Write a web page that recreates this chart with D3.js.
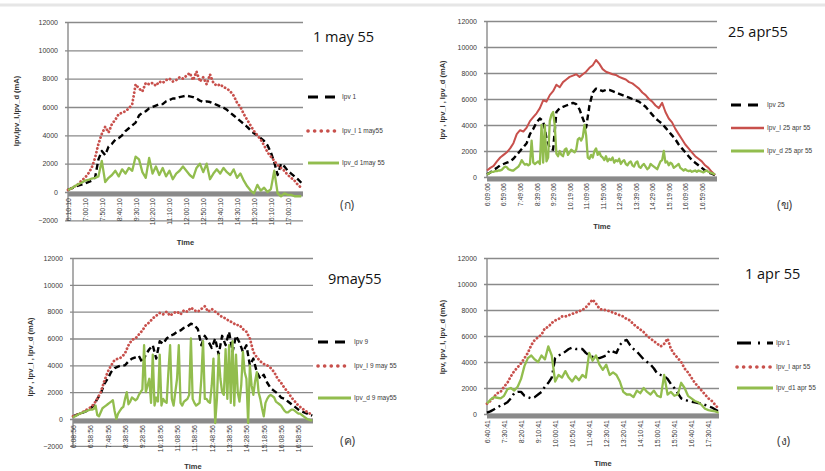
<!DOCTYPE html>
<html>
<head>
<meta charset="utf-8">
<title>Ipv, Ipv_I, Ipv_d - four days</title>
<style>
  body { margin: 0; background: #fff; }
  svg { display: block; }
  .tick text { font-family: "Liberation Sans", Arial, sans-serif; font-size: 7px; fill: #3a3a3a; }
  .leg { font-family: "Liberation Sans", Arial, sans-serif; font-size: 6.5px; fill: #3a3a3a; }
  .ttl { font-family: "Open Sans", "Noto Sans", sans-serif; font-size: 14.5px; fill: #111; }
  .lab { font-family: "Noto Sans", sans-serif; font-size: 12px; fill: #444; }
  .axt { font-family: "Liberation Sans", Arial, sans-serif; font-size: 7.5px; font-weight: bold; fill: #333; }
</style>
<script src="https://d3js.org/d3.v7.min.js"></script>
</head>
<body>
<script>
var yTicks = [-2000, 0, 2000, 4000, 6000, 8000, 10000, 12000];

// (ก) 1 may 55
var p1Ticks = ["6:10:10","7:00:10","7:50:10","8:40:10","9:30:10","10:20:10","11:10:10","12:00:10","12:50:10","13:40:10","14:30:10","15:20:10","16:10:10","17:00:10"];
var p1Ipv = [150,250,350,450,520,600,700,800,1000,2300,2900,2600,3200,3400,3700,3800,4000,4300,4500,4700,4900,5400,5600,5700,5900,6000,6100,6200,6200,6400,6500,6600,6600,6700,6750,6800,6750,6700,6600,6450,6350,6400,6350,6250,6150,6050,5950,5800,5600,5400,5200,5000,4800,4600,4350,4150,4000,3800,3600,3300,2800,2100,1200,2000,1800,1500,1300,1100,900,650];
var p1IpvI = [150,250,400,550,800,1000,1300,1700,2400,3400,4100,4600,4200,4800,5100,5500,5600,5700,5900,6200,7600,7300,7100,7700,7600,7700,7500,7800,7700,7900,8000,7800,7900,8100,8000,8200,8400,7900,8500,7800,8100,7600,8300,7700,7500,7600,7400,7300,7100,6800,6300,6000,5500,5100,4700,4300,4000,3700,3300,2800,2500,2200,1900,1700,1500,1200,1000,800,500,300];
var p1IpvD = [150,250,400,550,650,800,850,950,1000,1100,2200,700,1000,1200,1500,1100,1600,1300,1700,1500,2500,2300,1400,1000,2400,1300,1800,1200,1700,1100,1500,900,1300,1500,1800,1500,1200,1000,1700,2000,1400,2000,900,1300,1600,1300,1700,1400,1200,1600,1000,1300,800,400,100,-100,500,100,300,0,200,1500,-100,-300,-100,-200,-200,-300,-300,-300];

// (ข) 25 apr55
var p2Ticks = ["6:09:06","6:59:06","7:49:06","8:39:06","9:29:06","10:19:06","11:09:06","11:59:06","12:49:06","13:39:06","14:29:06","15:19:06","16:09:06","16:59:06"];
var p2Ipv = [200,350,550,700,900,1000,1100,1200,1400,1700,2000,2300,2600,3300,3700,4200,4500,4300,3000,2200,2100,5000,5300,5400,5500,5600,5700,5600,5200,4500,3800,5500,6500,6800,6700,6600,6700,6700,6600,6500,6400,6300,6200,6100,6000,5900,5800,5600,5400,5100,4800,4500,4300,4100,3800,3500,3200,2900,2500,2200,1900,1600,1300,1100,900,700,500,350,250,150];
var p2IpvI = [500,700,850,1200,1500,1700,1900,2200,2600,3300,3600,3500,3800,4300,4600,4900,5300,5900,5800,6300,6600,7100,6900,7300,7500,7700,7800,7900,7700,7900,8100,8400,8600,9000,8700,8300,8100,8000,7900,7850,7700,7600,7500,7300,7200,7000,6800,6500,6300,6000,5800,5500,5300,5700,5000,4500,4200,3700,3300,2900,2500,2200,1900,1600,1400,1200,900,700,400,150];
var p2IpvD = [200,250,350,400,400,450,450,500,500,550,700,800,750,600,550,500,500,600,700,800,1000,1300,1100,950,1000,900,1000,2800,1100,1000,1100,1200,1000,4000,1100,4000,1200,1500,4300,4800,5000,4000,1800,1600,2000,1700,1600,2100,2200,1700,1900,2100,2000,1900,2100,2900,3000,2800,3100,4000,3200,1500,1400,1700,1500,2000,2200,1700,1900,1600,1500,1300,1600,1200,1400,1300,1500,1100,1300,1200,1400,1000,1200,1300,1000,900,1100,1200,900,800,1100,1200,800,700,900,1000,800,600,700,1000,900,800,700,600,900,1200,1300,2000,1100,1200,900,1100,1000,700,800,900,1000,700,600,500,600,500,450,500,400,450,500,400,500,450,400,350,450,500,400,350,300,250,200];

// (ค) 9may55
var p3Ticks = ["6:08:56","6:58:56","7:48:56","8:38:56","9:28:56","10:18:56","11:08:56","11:58:56","12:48:56","13:38:56","14:28:56","15:18:56","16:08:56","16:58:56"];
var p3Ipv = [200,300,400,500,600,800,1000,1500,1900,2600,3000,3500,3800,3900,4000,4000,4300,4500,4600,4700,4200,4800,5200,5500,4500,5800,5600,6000,6200,6300,6500,6600,6800,6900,7100,7000,6700,5500,6200,5800,5300,6000,4800,6200,5500,6500,5000,6200,5700,5000,5500,4000,4500,3500,3000,3300,2700,2300,2100,1900,1600,1500,1300,1100,900,700,550,450,350,250];
var p3IpvI = [200,300,400,550,700,850,1100,1500,2000,2800,3500,4000,4400,4500,4600,4900,5500,5900,6000,6300,6600,7000,7200,7500,7700,7900,7800,8000,7700,7900,8000,7800,8100,8000,8300,8100,8000,8200,8400,8000,8200,8000,7800,7600,7500,7300,7200,7000,7000,6700,6500,6000,5000,4600,4300,4100,4000,3800,3500,3000,2700,2300,2000,1600,1300,1000,800,600,450,300];
var p3IpvD = [100,200,250,350,400,450,500,550,600,650,700,700,750,1000,300,200,500,800,900,1000,1100,1200,1300,1400,600,0,400,600,800,900,1500,2000,1100,1300,1600,1500,1400,1500,1800,2000,2200,5500,2000,2500,3000,1200,4800,1000,1600,1300,4800,1000,1500,1300,1200,3500,5500,1500,1000,2000,3000,5500,1200,1000,1300,1400,1500,1800,6000,1500,1200,1000,1100,1200,3000,5800,1500,1500,1300,1200,2500,4500,-300,1500,4800,3000,2000,1800,5200,1500,5500,1200,5800,1000,4800,2000,1300,2500,5000,3500,3000,-300,4000,2500,1800,2800,3500,2000,1500,800,200,1200,1500,1700,1800,1700,1600,1300,1200,1100,1000,800,600,500,500,600,700,700,600,500,400,400,300,200,100,0,-50,-100,-100];

// (ง) 1 apr 55
var p4Ticks = ["6:40:41","7:30:41","8:20:41","9:10:41","10:00:41","10:50:41","11:40:41","12:30:41","13:20:41","14:10:41","15:00:41","15:50:41","16:40:41","17:30:41"];
var p4Ipv = [100,200,350,500,650,750,900,1200,1600,1700,1700,1400,1300,1200,1300,1500,1700,2100,2400,2800,4300,4500,4600,4800,5000,5100,5000,5000,5000,4700,4500,4400,4300,4300,4400,4500,4900,4800,4700,5300,5600,5700,5300,5000,4800,4500,4200,4000,3800,3500,3100,3000,2900,2700,2300,2000,1600,1200,1100,1000,950,900,850,800,700,600,500,350,200];
var p4IpvI = [800,1000,1300,1600,1700,2100,2400,2900,3300,3600,3900,4300,4700,5300,5700,5900,6100,6600,6700,7000,7200,7300,7500,7500,7600,7700,7800,7900,8000,8200,8500,8800,8500,8100,8000,8000,7900,7800,7700,7600,7500,7300,7200,6900,6700,6500,6300,6000,5800,5600,5400,5200,5400,5800,5000,4600,4300,4000,3500,3200,2800,2400,2100,1800,1500,1200,1000,700,400];
var p4IpvD = [800,1100,1300,1250,1200,1400,1900,2000,1800,2100,2700,3700,4300,4500,4200,4000,4500,4200,5200,4500,2500,3000,2800,3300,2800,2500,2900,2600,3000,2800,4700,4100,4500,3800,3400,3800,3000,3200,3000,2500,1700,1500,1500,1300,1800,1600,2000,1700,1500,1800,1400,1300,3000,1500,1700,1400,1500,2400,2000,1400,1200,1000,900,700,400,300,250,200,100];

var RED = "#c8504c", GREEN = "#92bd4e", GRID = "#8a8a8a";

var svg = d3.select("body").append("svg")
  .attr("width", 825).attr("height", 471);

// faint scan border on top
svg.append("line").attr("x1", 0).attr("x2", 825).attr("y1", 5).attr("y2", 5)
  .attr("stroke", "#e6e6e6").attr("stroke-width", 3);

function toMin(s) {
  var p = s.split(":");
  return +p[0] * 60 + +p[1] + +p[2] / 60;
}

var dashed = {dash: "6,3.5", w: 2.4, color: "#000"};
var dotted = {dash: "0.1,3.7", w: 2.8, color: RED, cap: "round"};
var solidG = {dash: null, w: 2.3, color: GREEN};

var panels = [
  {left: 68, right: 303, top: 22, zero: 192, min: -2000, span: 695, ticks: p1Ticks,
   title: "1 may 55", tx: 313, ty: 42, tag: "(ก)", gx: 340, gy: 209,
   ytitle: "Ipv,Ipv_I,Ipv_d (mA)", yx: 19, yy: 111, timeY: 245,
   legX: 308, legW: 31,
   series: [
     {name: "Ipv 1", v: p1Ipv, step: 10, st: dashed, ly: 97},
     {name: "Ipv_I 1 may55", v: p1IpvI, step: 10, st: dotted, ly: 131},
     {name: "Ipv_d 1may 55", v: p1IpvD, step: 10, st: solidG, ly: 163}]},
  {left: 487, right: 717, top: 21, zero: 177, min: 0, span: 696, ticks: p2Ticks,
   title: "25 apr55", tx: 728, ty: 37, tag: "(ข)", gx: 777, gy: 209,
   ytitle: "Ipv , Ipv_I , Ipv_d (mA)", yx: 445, yy: 100, timeY: 229,
   legX: 731, legW: 33,
   series: [
     {name: "Ipv 25", v: p2Ipv, step: 10, st: dashed, ly: 105},
     {name: "Ipv_I 25 apr 55", v: p2IpvI, step: 10, st: {dash: null, w: 2, color: RED}, ly: 128},
     {name: "Ipv_d 25 apr 55", v: p2IpvD, step: 5, st: solidG, ly: 151}]},
  {left: 73, right: 313, top: 258, zero: 419, min: -2000, span: 692, ticks: p3Ticks,
   title: "9may55", tx: 328, ty: 284, tag: "(ค)", gx: 340, gy: 445,
   ytitle: "Ipv , Ipv_I , Ipv_d (mA)", yx: 33, yy: 357, timeY: 469,
   legX: 318, legW: 33,
   series: [
     {name: "Ipv 9", v: p3Ipv, step: 10, st: dashed, ly: 342},
     {name: "Ipv_I 9 may 55", v: p3IpvI, step: 10, st: dotted, ly: 366},
     {name: "Ipv_d 9 may55", v: p3IpvD, step: 5, st: solidG, ly: 398}]},
  {left: 487, right: 719, top: 258, zero: 414, min: 0, span: 681, ticks: p4Ticks,
   title: "1 apr 55", tx: 745, ty: 279, tag: "(ง)", gx: 777, gy: 445,
   ytitle: "Ipv, Ipv_I, Ipv_d (mA)", yx: 445, yy: 337, timeY: 466,
   legX: 737, legW: 36,
   series: [
     {name: "Ipv 1", v: p4Ipv, step: 10, st: {dash: "9,4,2,4", w: 2.4, color: "#000"}, ly: 343},
     {name: "Ipv_I apr 55", v: p4IpvI, step: 10, st: dotted, ly: 367},
     {name: "Ipv_d1 apr 55", v: p4IpvD, step: 10, st: solidG, ly: 388}]}
];

panels.forEach(drawPanel);

function drawPanel(p) {
  var g = svg.append("g");
  var t0 = toMin(p.ticks[0]);
  var bottom = p.zero + (p.min < 0 ? (p.zero - p.top) / 6 : 0);
  var x = d3.scaleLinear().domain([t0, t0 + p.span]).range([p.left, p.right]);
  var y = d3.scaleLinear().domain([p.min, 12000]).range([bottom, p.top]);

  // gridlines + value labels
  var ya = g.append("g")
    .attr("transform", "translate(" + p.left + ",0)")
    .call(d3.axisLeft(y)
      .tickValues(yTicks.filter(function (d) { return d >= p.min; }))
      .tickSize(-(p.right - p.left))
      .tickPadding(10)
      .tickFormat(d3.format("d")));
  ya.select(".domain").remove();
  ya.selectAll(".tick line").attr("stroke", GRID).attr("stroke-width", 1.4).attr("x1", -3);

  // y axis line
  g.append("line").attr("x1", p.left).attr("x2", p.left)
    .attr("y1", p.top).attr("y2", bottom)
    .attr("stroke", GRID).attr("stroke-width", 1.4);

  // thick category axis band at zero
  g.append("rect").attr("x", p.left).attr("y", p.zero - 0.5)
    .attr("width", p.right - p.left).attr("height", 5)
    .attr("fill", GRID);

  // time labels
  var xa = g.append("g")
    .attr("transform", "translate(0," + (p.zero + 6) + ")")
    .call(d3.axisBottom(x)
      .tickValues(p.ticks.map(toMin))
      .tickFormat(function (d, i) { return p.ticks[i]; })
      .tickSize(0));
  xa.select(".domain").remove();
  xa.selectAll("text")
    .attr("y", 0).attr("x", 0).attr("dy", ".35em")
    .attr("transform", "rotate(-90)")
    .style("text-anchor", "end");

  var line = d3.line()
    .x(function (d) { return x(d.t); })
    .y(function (d) { return y(d.v); });

  p.series.forEach(function (s) {
    var pts = s.v.map(function (v, i) { return {t: t0 + i * s.step, v: v}; });
    var path = g.append("path").datum(pts)
      .attr("d", line)
      .attr("fill", "none")
      .attr("stroke", s.st.color)
      .attr("stroke-width", s.st.w)
      .attr("stroke-linejoin", "round");
    if (s.st.dash) path.attr("stroke-dasharray", s.st.dash);
    if (s.st.cap) path.attr("stroke-linecap", s.st.cap);

    // legend
    var lg = g.append("line")
      .attr("x1", p.legX).attr("x2", p.legX + p.legW)
      .attr("y1", s.ly).attr("y2", s.ly)
      .attr("stroke", s.st.color)
      .attr("stroke-width", s.st.cap ? 3.6 : s.st.w + 0.6);
    if (s.st.dash) lg.attr("stroke-dasharray", s.st.cap ? "0.1,6.5" : (s.st.dash === dashed.dash ? "10,7" : "14,7,2,7"));
    if (s.st.cap) lg.attr("stroke-linecap", "round");
    g.append("text").attr("class", "leg")
      .attr("x", p.legX + p.legW + 3).attr("y", s.ly).attr("dy", ".35em")
      .text(s.name);
  });

  g.append("text").attr("class", "ttl").attr("x", p.tx).attr("y", p.ty).text(p.title);
  g.append("text").attr("class", "lab").attr("x", p.gx).attr("y", p.gy).text(p.tag);
  g.append("text").attr("class", "axt")
    .attr("x", (p.left + p.right) / 2).attr("y", p.timeY)
    .style("text-anchor", "middle").text("Time");
  g.append("text").attr("class", "axt")
    .attr("transform", "translate(" + p.yx + "," + p.yy + ") rotate(-90)")
    .style("text-anchor", "middle").text(p.ytitle);
}
</script>
</body>
</html>
